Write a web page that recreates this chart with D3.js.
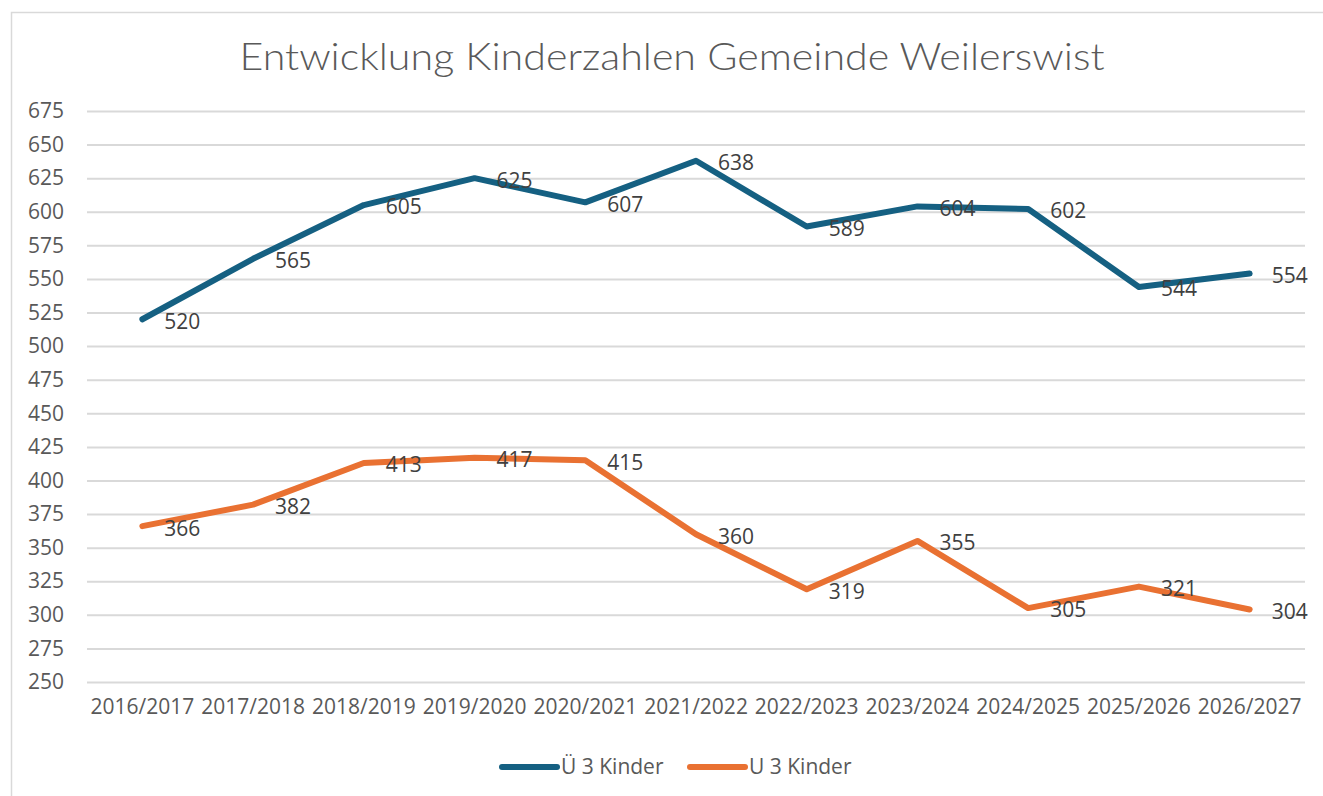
<!DOCTYPE html>
<html>
<head>
<meta charset="utf-8">
<script src="https://cdn.jsdelivr.net/npm/d3@7"></script>
<style>
  body { margin: 0; background: #fff; }
  svg { display: block; }
</style>
</head>
<body>
<svg id="chart" width="1323" height="796"></svg>
<script>
// data
const years = ['2016/2017', '2017/2018', '2018/2019', '2019/2020', '2020/2021', '2021/2022',
  '2022/2023', '2023/2024', '2024/2025', '2025/2026', '2026/2027'];
const ue3 = [520, 565, 605, 625, 607, 638, 589, 604, 602, 544, 554];
const u3 = [366, 382, 413, 417, 415, 360, 319, 355, 305, 321, 304];
const yTicks = d3.range(250, 676, 25);
const seriesNames = ['Ü 3 Kinder', 'U 3 Kinder'];

const series = [
  {name: seriesNames[0], values: ue3, colour: '#156082'},
  {name: seriesNames[1], values: u3, colour: '#E97132'}
];

const svg = d3.select('#chart');
const dim = {left: 87, right: 1305, top: 111, bottom: 682};
const font = '"Open Sans", "Noto Sans", sans-serif';

// chart area border
svg.append('rect')
  .attr('x', 11.5).attr('y', 12.5)
  .attr('width', 1340).attr('height', 800)
  .attr('fill', 'none')
  .attr('stroke', '#d9d9d9')
  .attr('stroke-width', 1.5);

// title
svg.append('text')
  .attr('x', 672).attr('y', 70)
  .attr('text-anchor', 'middle')
  .attr('font-family', '"Century Gothic", "URW Gothic", Lato, sans-serif')
  .attr('font-weight', 300)
  .attr('font-size', 37)
  .attr('fill', '#595959')
  .attr('textLength', 865)
  .attr('lengthAdjust', 'spacingAndGlyphs')
  .text('Entwicklung Kinderzahlen Gemeinde Weilerswist');

// scales
const x = d3.scaleBand()
  .domain(years)
  .range([dim.left, dim.right]);

const y = d3.scaleLinear()
  .domain([250, 675])
  .range([dim.bottom, dim.top]);

// grid + y labels
const yAxis = svg.append('g')
  .call(d3.axisLeft(y).tickValues(yTicks).tickSize(-(dim.right - dim.left)).tickPadding(23))
  .attr('transform', `translate(${dim.left},0)`);
yAxis.select('.domain').remove();
yAxis.selectAll('line').attr('stroke', '#d9d9d9').attr('stroke-width', 2);
yAxis.selectAll('text')
  .attr('font-family', font)
  .attr('font-size', 21)
  .attr('fill', '#595959');

// x labels
const xAxis = svg.append('g')
  .attr('transform', `translate(0,${dim.bottom})`)
  .call(d3.axisBottom(x).tickSize(0).tickPadding(17));
xAxis.select('.domain').remove();
xAxis.selectAll('text')
  .attr('font-family', font)
  .attr('font-size', 21)
  .attr('fill', '#595959');

// lines
const line = d3.line()
  .x((d, i) => x(years[i]) + x.bandwidth() / 2)
  .y(d => y(d));

svg.append('g').selectAll('path')
  .data(series)
  .enter().append('path')
    .attr('d', d => line(d.values))
    .attr('fill', 'none')
    .attr('stroke', d => d.colour)
    .attr('stroke-width', 6)
    .attr('stroke-linejoin', 'round')
    .attr('stroke-linecap', 'round');

// data labels
series.forEach(s => {
  svg.append('g').selectAll('text')
    .data(s.values)
    .enter().append('text')
      .attr('x', (d, i) => x(years[i]) + x.bandwidth() / 2 + 22)
      .attr('y', d => y(d) + 2)
      .attr('dy', '0.35em')
      .attr('font-family', font)
      .attr('font-size', 21)
      .attr('fill', '#404040')
      .text(d => d);
});

// legend
const legendPos = [502, 690];
const legend = svg.append('g').selectAll('g')
  .data(series)
  .enter().append('g')
    .attr('transform', (d, i) => `translate(${legendPos[i]},767)`);

legend.append('line')
  .attr('x1', 0).attr('x2', 55)
  .attr('stroke', d => d.colour)
  .attr('stroke-width', 6)
  .attr('stroke-linecap', 'round');

legend.append('text')
  .attr('x', 59)
  .attr('dy', '0.35em')
  .attr('font-family', font)
  .attr('font-size', 21)
  .attr('fill', '#595959')
  .text(d => d.name);
</script>
</body>
</html>
